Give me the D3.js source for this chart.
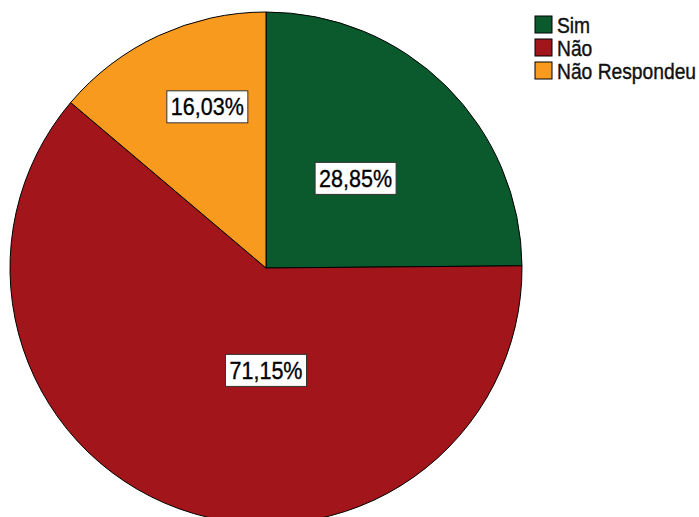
<!DOCTYPE html>
<html>
<head>
<meta charset="utf-8">
<script src="https://cdn.jsdelivr.net/npm/d3@7"></script>
<style>
  body { margin: 0; background: #fff; }
  svg { display: block; }
</style>
</head>
<body>
<div id="chart"></div>
<script>
// chart data
const categories = ["Sim", "Não", "Não Respondeu"];
const percents = [28.85, 71.15, 16.03];
const percentLabels = ["28,85%", "71,15%", "16,03%"];
const colors = ["#0b5a2e", "#a2161b", "#f89a1e"];

const width = 699, height = 517;
const cx = 266, cy = 268, radius = 256;

// where SPSS put each label (angle in degrees from top, fraction of radius)
const labelLayout = [[45, 0.495], [180, 0.4], [340, 0.67]];

const svg = d3.select("#chart").append("svg")
    .attr("width", width)
    .attr("height", height);

const pie = d3.pie().sort(null).value(d => d.value);
const arc = d3.arc().innerRadius(0).outerRadius(radius);

const data = categories.map((c, i) => ({name: c, value: percents[i], label: percentLabels[i], color: colors[i]}));
const arcs = pie(data);

const g = svg.append("g").attr("transform", `translate(${cx},${cy})`);

g.selectAll("path.slice")
    .data(arcs)
    .enter().append("path")
    .attr("class", "slice")
    .attr("d", arc)
    .attr("fill", d => d.data.color)
    .attr("stroke", "#000")
    .attr("stroke-width", 1);

// percent labels with white boxes
const labels = g.selectAll("g.lbl")
    .data(arcs)
    .enter().append("g")
    .attr("class", "lbl")
    .attr("transform", (d, i) => {
        let a = labelLayout[i][0] * Math.PI / 180;
        let r = labelLayout[i][1] * radius;
        return `translate(${r * Math.sin(a)},${-r * Math.cos(a)})`;
    });

labels.append("rect")
    .attr("x", -40.5).attr("y", -16)
    .attr("width", 81).attr("height", 32)
    .attr("fill", "#fff")
    .attr("stroke", "#333")
    .attr("stroke-width", 1);

labels.append("text")
    .attr("text-anchor", "middle")
    .attr("y", 8.5)
    .attr("font-family", "Liberation Sans, Arial, sans-serif")
    .attr("font-size", 24)
    .attr("textLength", 73)
    .attr("lengthAdjust", "spacingAndGlyphs")
    .attr("fill", "#000")
    .attr("stroke", "#000")
    .attr("stroke-width", 0.35)
    .text(d => d.data.label);

// legend
const legend = svg.append("g").attr("transform", "translate(535,16)");
const items = legend.selectAll("g.item")
    .data(data)
    .enter().append("g")
    .attr("class", "item")
    .attr("transform", (d, i) => `translate(0,${i * 23})`);

items.append("rect")
    .attr("width", 17).attr("height", 17)
    .attr("fill", d => d.color)
    .attr("stroke", "#000")
    .attr("stroke-width", 1);

items.append("g")
    .attr("transform", "translate(22,17) scale(0.875,1)")
    .append("text")
    .attr("font-family", "Liberation Sans, Arial, sans-serif")
    .attr("font-size", 22)
    .attr("fill", "#111")
    .attr("stroke", "#111")
    .attr("stroke-width", 0.4)
    .text(d => d.name);
</script>
</body>
</html>
